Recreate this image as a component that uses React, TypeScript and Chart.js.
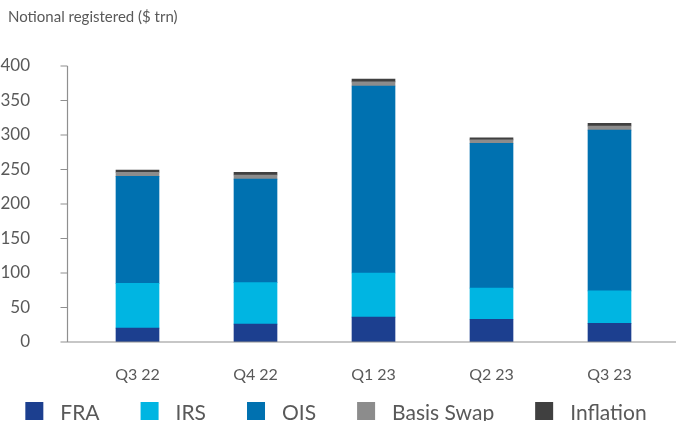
import React, { useEffect, useRef } from "react";
import { Chart, registerables } from "chart.js";

Chart.register(...registerables);

const categories = ["Q3 22", "Q4 22", "Q1 23", "Q2 23", "Q3 23"];
const fra = [20, 26, 36, 33, 27];
const irs = [65, 60, 64, 45, 47];
const ois = [155, 150, 271, 210, 233];
const basisSwap = [6, 6, 6, 5, 6];
const inflation = [3, 4, 4, 3, 4];
const yTicks = [0, 50, 100, 150, 200, 250, 300, 350, 400];
const titleText = "Notional registered ($ trn)";

const seriesNames = ["FRA", "IRS", "OIS", "Basis Swap", "Inflation"];
const seriesColors = ["#1c3f8f", "#00b5e2", "#0071b0", "#8c8c8c", "#404040"];

const FONT = "Lato, 'Open Sans', sans-serif";
const TEXT = "#595959";
const AXIS = "#8f8f8f";

const decorPlugin = {
  id: "decor",
  afterDraw(chart: any) {
    const ctx = chart.ctx;
    const y = chart.scales.y;
    const area = chart.chartArea;
    ctx.save();
    // title
    ctx.font = `15px ${FONT}`;
    ctx.fillStyle = TEXT;
    ctx.textBaseline = "alphabetic";
    ctx.textAlign = "left";
    ctx.fillText(titleText, 8, 22);

    // axes
    const axisX = area.left - 11;
    const y0 = y.getPixelForValue(0);
    const yTop = y.getPixelForValue(yTicks[yTicks.length - 1]);
    ctx.strokeStyle = AXIS;
    ctx.lineWidth = 1.2;
    ctx.beginPath();
    ctx.moveTo(axisX, yTop);
    ctx.lineTo(axisX, y0);
    yTicks.forEach((v) => {
      const py = y.getPixelForValue(v);
      ctx.moveTo(axisX - 7, py);
      ctx.lineTo(axisX, py);
    });
    ctx.moveTo(axisX - 7, y0);
    ctx.lineTo(chart.width, y0);
    ctx.stroke();

    // legend
    ctx.font = `21px ${FONT}`;
    const box = 18;
    const gapText = 17;
    const gapItem = 41;
    const widths = seriesNames.map((n) => ctx.measureText(n).width);
    const total =
      widths.reduce((a: number, w: number) => a + box + gapText + w, 0) +
      gapItem * (seriesNames.length - 1);
    let x = 336 - total / 2;
    const boxTop = 402;
    chart.data.datasets.forEach((ds: any, i: number) => {
      ctx.fillStyle = ds.backgroundColor;
      ctx.fillRect(x, boxTop, box, box);
      ctx.fillStyle = TEXT;
      ctx.textBaseline = "alphabetic";
      ctx.fillText(ds.label, x + box + gapText, 419.5);
      x += box + gapText + widths[i] + gapItem;
    });
    ctx.restore();
  },
};

export default function App() {
  const ref = useRef<HTMLCanvasElement>(null);
  useEffect(() => {
    if (!ref.current) return;
    const seriesData = [fra, irs, ois, basisSwap, inflation];
    const chart = new Chart(ref.current, {
      type: "bar",
      data: {
        labels: categories,
        datasets: seriesData.map((d, i) => ({
          label: seriesNames[i],
          data: d,
          backgroundColor: seriesColors[i],
          borderWidth: 0,
          barThickness: 43,
        })),
      },
      options: {
        animation: false,
        responsive: false,
        maintainAspectRatio: false,
        layout: { padding: { top: 66, left: 0, right: 7.5, bottom: 0 } },
        plugins: {
          legend: { display: false },
          title: { display: false },
          tooltip: { enabled: false },
        },
        scales: {
          x: {
            stacked: true,
            grid: { display: false },
            border: { display: false },
            ticks: {
              color: TEXT,
              font: { family: FONT, size: 16 },
              padding: 15,
              maxRotation: 0,
            },
            afterFit: (s: any) => {
              s.height = 79;
            },
          },
          y: {
            stacked: true,
            min: 0,
            max: 400,
            grid: { display: false },
            border: { display: false },
            ticks: {
              stepSize: 50,
              color: TEXT,
              font: { family: FONT, size: 17 },
              padding: 40.5,
            },
            afterFit: (s: any) => {
              s.width = 78.5;
            },
          },
        },
      },
      plugins: [decorPlugin],
    });
    return () => chart.destroy();
  }, []);
  return (
    <div style={{ position: "absolute", left: 0, top: 0, width: 676, height: 421, background: "#fff" }}>
      <canvas ref={ref} width={676} height={421} style={{ display: "block" }} />
    </div>
  );
}
